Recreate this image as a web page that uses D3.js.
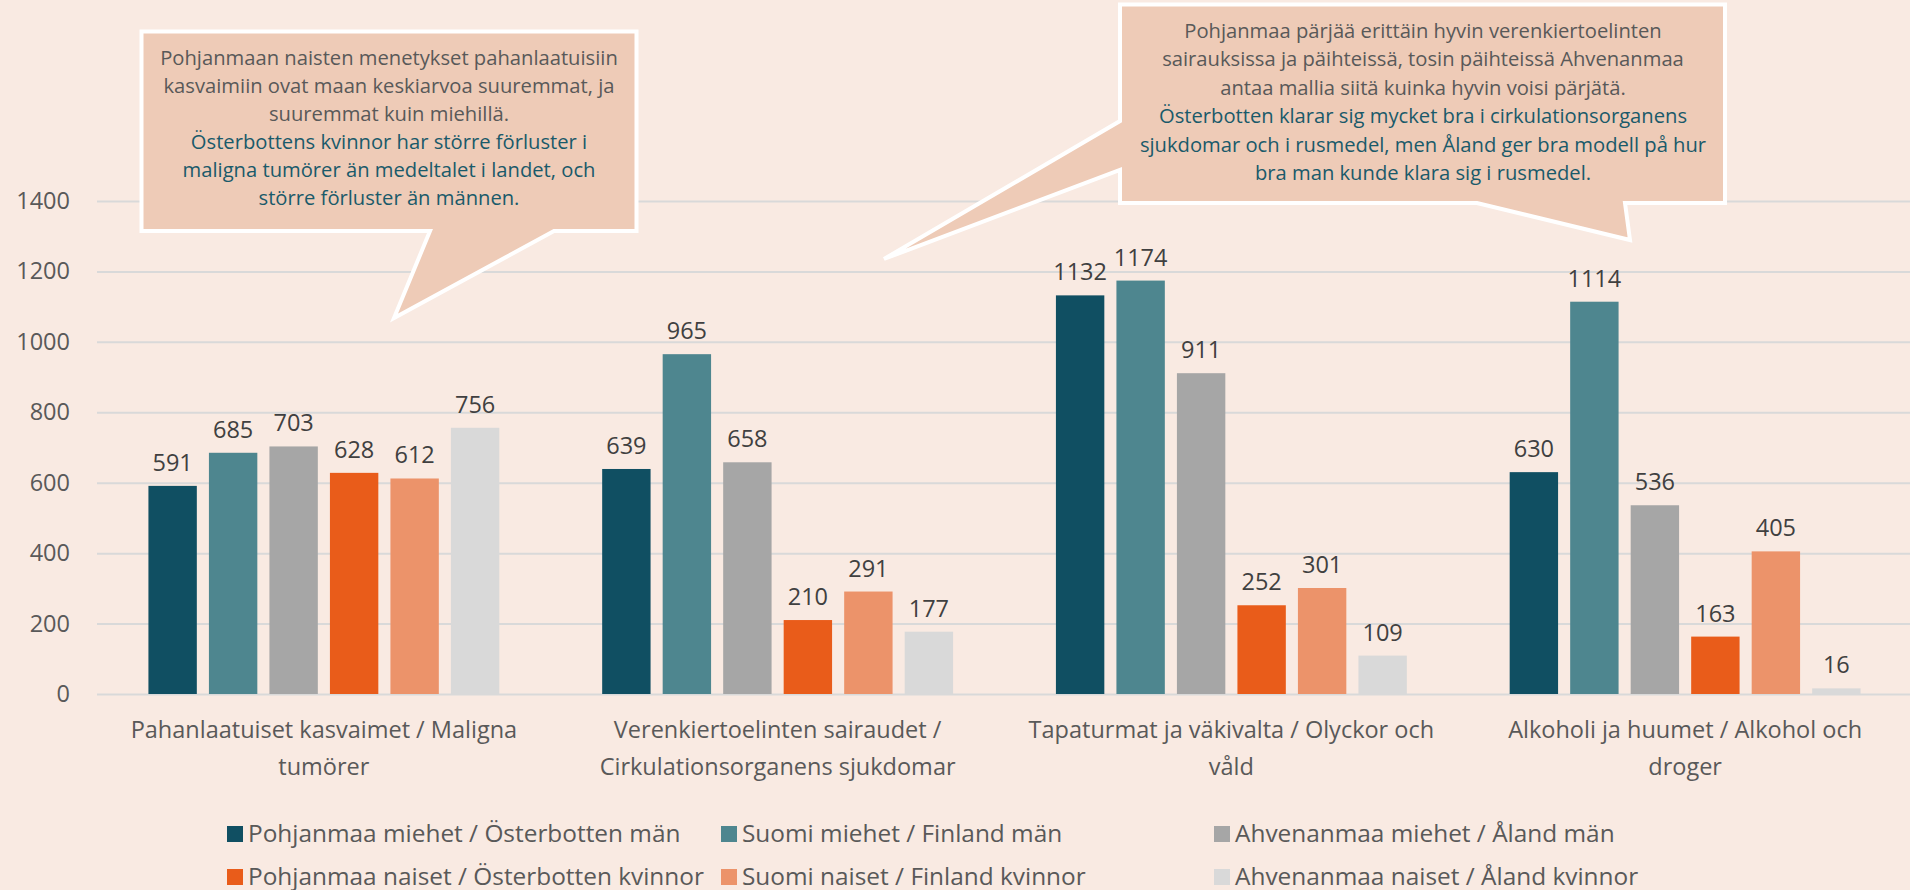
<!DOCTYPE html>
<html>
<head>
<meta charset="utf-8">
<script src="https://cdn.jsdelivr.net/npm/d3@7"></script>
<style>
  html, body { margin: 0; padding: 0; background: #F9EAE2; }
  svg { display: block; }
  text { font-family: "Open Sans", "Noto Sans", sans-serif; }
</style>
</head>
<body>
<svg id="chart" width="1910" height="890"></svg>
<script>
// ---- Data ----
const categories = [
  ["Pahanlaatuiset kasvaimet / Maligna", "tumörer"],
  ["Verenkiertoelinten sairaudet /", "Cirkulationsorganens sjukdomar"],
  ["Tapaturmat ja väkivalta / Olyckor och", "våld"],
  ["Alkoholi ja huumet / Alkohol och", "droger"]
];
const seriesNames = [
  "Pohjanmaa miehet / Österbotten män",
  "Suomi miehet / Finland män",
  "Ahvenanmaa miehet / Åland män",
  "Pohjanmaa naiset / Österbotten kvinnor",
  "Suomi naiset / Finland kvinnor",
  "Ahvenanmaa naiset / Åland kvinnor"
];
const pohjanmaaMiehet = [591, 639, 1132, 630];
const suomiMiehet     = [685, 965, 1174, 1114];
const ahvenanmaaMiehet= [703, 658, 911, 536];
const pohjanmaaNaiset = [628, 210, 252, 163];
const suomiNaiset     = [612, 291, 301, 405];
const ahvenanmaaNaiset= [756, 177, 109, 16];
const seriesValues = [pohjanmaaMiehet, suomiMiehet, ahvenanmaaMiehet, pohjanmaaNaiset, suomiNaiset, ahvenanmaaNaiset];
const yTicks = [0, 200, 400, 600, 800, 1000, 1200, 1400];
const callout1Lines = [
  ["Pohjanmaan naisten menetykset pahanlaatuisiin", "fi"],
  ["kasvaimiin ovat maan keskiarvoa suuremmat, ja", "fi"],
  ["suuremmat kuin miehillä.", "fi"],
  ["Österbottens kvinnor har större förluster i", "sv"],
  ["maligna tumörer än medeltalet i landet, och", "sv"],
  ["större förluster än männen.", "sv"]
];
const callout2Lines = [
  ["Pohjanmaa pärjää erittäin hyvin verenkiertoelinten", "fi"],
  ["sairauksissa ja päihteissä, tosin päihteissä Ahvenanmaa", "fi"],
  ["antaa mallia siitä kuinka hyvin voisi pärjätä.", "fi"],
  ["Österbotten klarar sig mycket bra i cirkulationsorganens", "sv"],
  ["sjukdomar och i rusmedel, men Åland ger bra modell på hur", "sv"],
  ["bra man kunde klara sig i rusmedel.", "sv"]
];

// ---- Styles ----
const colors = ["#104F62", "#4E868F", "#A6A6A6", "#E95C1A", "#EC936A", "#D9D9D9"];
const textGray = "#595959";
const labelGray = "#404040";
const calloutFill = "#EECBB7";
const calloutTeal = "#1A5A6A";

const svg = d3.select("#chart");
const plotLeft = 97, plotRight = 1912, yTop = 201, yBottom = 694;

const x0 = d3.scaleBand().domain(d3.range(categories.length))
  .range([plotLeft, plotRight]).paddingInner(0.2).paddingOuter(0.1);
const x1 = d3.scaleBand().domain(d3.range(seriesNames.length))
  .range([0, x0.bandwidth()]).paddingInner(0.2).paddingOuter(0.1);
const y = d3.scaleLinear().domain([0, 1400]).range([yBottom, yTop]);

// gridlines
const yAxis = d3.axisLeft(y).tickValues(yTicks).tickSize(-(1910 - plotLeft)).tickPadding(27).tickFormat(d3.format("d"));
const gy = svg.append("g").attr("transform", `translate(${plotLeft},0)`).call(yAxis);
gy.select(".domain").remove();
gy.selectAll(".tick line").attr("stroke", "#D9D9D9").attr("stroke-width", 2);
gy.selectAll(".tick text").attr("fill", textGray).attr("font-size", 23.5)
  .attr("font-family", '"Open Sans", sans-serif');

// bars
const groups = svg.append("g").selectAll("g").data(categories).join("g")
  .attr("transform", (d, i) => `translate(${x0(i)},0)`);
groups.each(function(cat, ci) {
  const g = d3.select(this);
  const vals = seriesValues.map((s, si) => ({si, v: s[ci]}));
  g.selectAll("rect").data(vals).join("rect")
    .attr("x", d => x1(d.si))
    .attr("y", d => y(d.v))
    .attr("width", x1.bandwidth())
    .attr("height", d => y(0) - y(d.v))
    .attr("fill", d => colors[d.si]);
  g.selectAll("text.val").data(vals).join("text").attr("class", "val")
    .attr("x", d => x1(d.si) + x1.bandwidth() / 2)
    .attr("y", d => y(d.v) - 15)
    .attr("text-anchor", "middle")
    .attr("font-size", 23.5)
    .attr("fill", labelGray)
    .text(d => d.v);
});

// category labels
const catG = svg.append("g");
categories.forEach((lines, i) => {
  const cx = x0(i) + x0.bandwidth() / 2;
  lines.forEach((ln, li) => {
    catG.append("text").attr("x", cx).attr("y", 738 + li * 37)
      .attr("text-anchor", "middle").attr("font-size", 23.5).attr("fill", textGray).text(ln);
  });
});

// legend
const legendCols = [227, 721, 1214];
const legendRows = [826, 869];
seriesNames.forEach((name, i) => {
  const col = i % 3, row = Math.floor(i / 3);
  const lx = legendCols[col], ly = legendRows[row];
  svg.append("rect").attr("x", lx).attr("y", ly).attr("width", 16).attr("height", 16).attr("fill", colors[i]);
  svg.append("text").attr("x", lx + 21).attr("y", ly + 16).attr("font-size", 24.4)
    .attr("fill", textGray).text(name);
});

// callouts
function callout(points, lines, cx, firstBaseline, step) {
  svg.append("path").attr("d", d3.line()(points) + "Z")
    .attr("fill", calloutFill).attr("stroke", "#FFFFFF").attr("stroke-width", 4)
    .attr("stroke-linejoin", "miter");
  lines.forEach((l, i) => {
    svg.append("text").attr("x", cx).attr("y", firstBaseline + i * step)
      .attr("text-anchor", "middle").attr("font-size", 20.2)
      .attr("fill", l[1] === "fi" ? textGray : calloutTeal).text(l[0]);
  });
}
callout([[141.5, 31.5], [636.5, 31.5], [636.5, 231], [554, 231], [394, 318], [430, 231], [141.5, 231]],
  callout1Lines, 389, 65, 28);
callout([[1120, 4.5], [1725, 4.5], [1725, 203], [1625, 203], [1630, 240], [1477, 203],
         [1120, 203], [1120, 170], [884, 259], [1120, 121]],
  callout2Lines, 1423, 38, 28.4);
</script>
</body>
</html>
